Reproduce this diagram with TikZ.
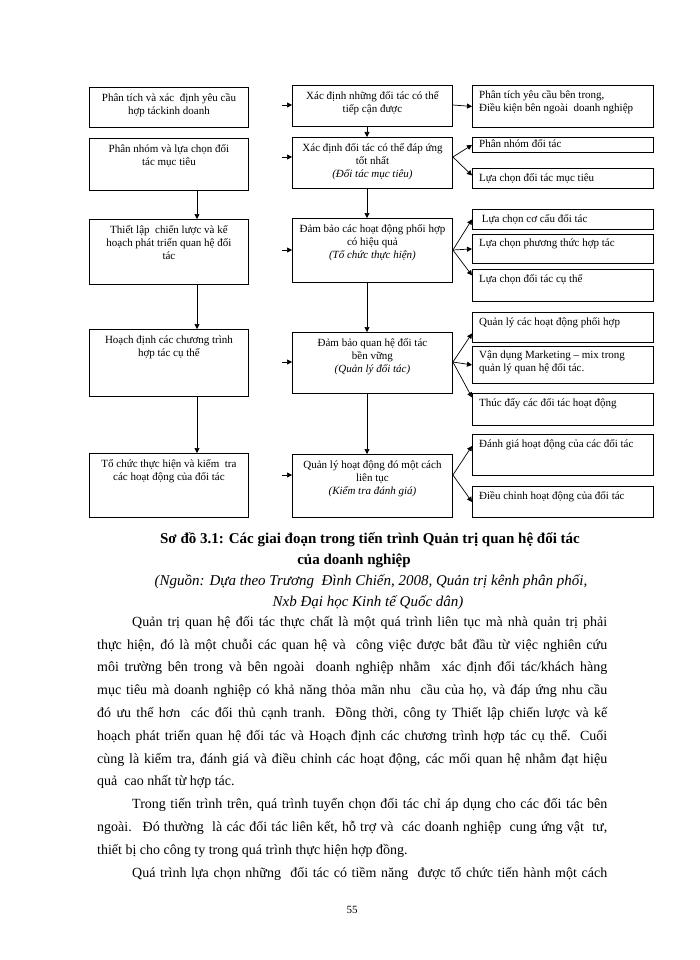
\documentclass[tikz,border=0pt]{standalone}
\usepackage{fontspec}
\setmainfont{Liberation Serif}
\usetikzlibrary{arrows.meta}
\newcommand\diagfont{\fontsize{11}{13}\selectfont}
\newcommand\bodyfont{\fontsize{14}{22.8}\selectfont}

\tikzset{
  frame/.style={draw, line width=0.9pt, anchor=north west, inner sep=0pt},
  lbox/.style={frame, minimum width=159pt},
  mbox/.style={frame, minimum width=160pt},
  rbox/.style={frame, minimum width=181pt},
  ctext/.style={anchor=north, align=center, font=\diagfont, inner xsep=4pt, inner ysep=6.5pt},
  rtext/.style={anchor=north west, align=left, font=\diagfont, inner xsep=7pt, inner ysep=5pt},
  arr/.style={-{Triangle[length=5pt,width=5pt]}, line width=0.7pt}
}

\begin{document}
\begin{tikzpicture}[x=1pt,y=-1pt]
    \fill[white] (0,0) rectangle (700,960);
    \useasboundingbox (0,0) rectangle (700,960);
    % left column
    \node[lbox, minimum height=40pt, label={[ctext]north:{Phân tích và xác \ định yêu cầu\\hợp táckinh doanh}}] (L1) at (89,87) {};
    \node[lbox, minimum height=52pt, label={[ctext]north:{Phân nhóm và lựa chọn đối\\tác mục tiêu}}] (L2) at (89,138) {};
    \node[lbox, minimum height=65pt, label={[ctext]north:{Thiết lập \ chiến lược và kế\\hoạch phát triển quan hệ đối\\tác}}] (L3) at (89,219) {};
    \node[lbox, minimum height=67pt, label={[ctext]north:{Hoạch định các chương trình\\hợp tác cụ thể}}] (L4) at (89,329) {};
    \node[lbox, minimum height=64pt, label={[ctext]north:{Tổ chức thực hiện và kiểm \ tra\\các hoạt động của đối tác}}] (L5) at (89,453) {};
    % middle column
    \node[mbox, minimum height=41pt, label={[ctext]north:{Xác định những đối tác có thể\\tiếp cận được}}] (M1) at (292,85) {};
    \node[mbox, minimum height=51pt, label={[ctext]north:{Xác định đối tác có thể đáp ứng\\tốt nhất\\\textit{(Đối tác mục tiêu)}}}] (M2) at (292,137) {};
    \node[mbox, minimum height=64pt, label={[ctext]north:{Đảm bảo các hoạt động phối hợp\\có hiệu quả\\\textit{(Tổ chức thực hiện)}}}] (M3) at (292,218) {};
    \node[mbox, minimum height=61pt, label={[ctext]north:{Đảm bảo quan hệ đối tác\\bền vững\\\textit{(Quản lý đối tác)}}}] (M4) at (292,332) {};
    \node[mbox, minimum height=63pt, label={[ctext]north:{Quản lý hoạt động đó một cách\\liên tục\\\textit{(Kiểm tra đánh giá)}}}] (M5) at (292,454) {};
    % right column
    \node[rbox, minimum height=42pt, label={[rtext]north west:{Phân tích yêu cầu bên trong,\\Điều kiện bên ngoài \ doanh nghiệp}}] (R1) at (472,85) {};
    \node[rbox, minimum height=15pt, label={[rtext, inner ysep=2pt]north west:{Phân nhóm đối tác}}] (R2) at (472,137) {};
    \node[rbox, minimum height=20pt, label={[rtext]north west:{Lựa chọn đối tác mục tiêu}}] (R3) at (472,168) {};
    \node[rbox, minimum height=20pt, label={[rtext]north west:{\ Lựa chọn cơ cấu đối tác}}] (R4) at (472,209) {};
    \node[rbox, minimum height=29pt, label={[rtext]north west:{Lựa chọn phương thức hợp tác}}] (R5) at (472,234) {};
    \node[rbox, minimum height=32pt, label={[rtext]north west:{Lựa chọn đối tác cụ thể}}] (R6) at (472,269) {};
    \node[rbox, minimum height=30pt, label={[rtext]north west:{Quản lý các hoạt động phối hợp}}] (R7) at (472,312) {};
    \node[rbox, minimum height=37pt, label={[rtext]north west:{Vận dụng Marketing – mix trong\\quản lý quan hệ đối tác.}}] (R8) at (472,346) {};
    \node[rbox, minimum height=32pt, label={[rtext]north west:{Thúc đẩy các đối tác hoạt động}}] (R9) at (472,393) {};
    \node[rbox, minimum height=41pt, label={[rtext]north west:{Đánh giá hoạt động của các đối tác}}] (R10) at (472,434) {};
    \node[rbox, minimum height=31pt, label={[rtext]north west:{Điều chỉnh hoạt động của đối tác}}] (R11) at (472,486) {};
    % vertical arrows
    \coordinate (lx) at (197,0);
    \coordinate (mx) at (367,0);
    \draw[arr] (L2.south -| lx) -- (L3.north -| lx);
    \draw[arr] (L3.south -| lx) -- (L4.north -| lx);
    \draw[arr] (L4.south -| lx) -- (L5.north -| lx);
    \draw[arr] (M1.south -| mx) -- (M2.north -| mx);
    \draw[arr] (M2.south -| mx) -- (M3.north -| mx);
    \draw[arr] (M3.south -| mx) -- (M4.north -| mx);
    \draw[arr] (M4.south -| mx) -- (M5.north -| mx);
    % short inputs on the left of the middle column
    \coordinate (s1) at (282,105);
    \coordinate (s2) at (282,157);
    \coordinate (s3) at (282,250);
    \coordinate (s4) at (282,362);
    \coordinate (s5) at (282,475);
    \draw[arr] (s1) -- (s1 -| M1.west);
    \draw[arr] (s2) -- (s2 -| M2.west);
    \draw[arr] (s3) -- (s3 -| M3.west);
    \draw[arr] (s4) -- (s4 -| M4.west);
    \draw[arr] (s5) -- (s5 -| M5.west);
    % fans to the right column
    \draw[arr] (s1 -| M1.east) -- (R1.west);
    \draw[arr] (s2 -| M2.east) -- (R2.west);
    \draw[arr] (s2 -| M2.east) -- ([yshift=3pt]R3.west);
    \draw[arr] (s3 -| M3.east) -- (R4.west);
    \draw[arr] (s3 -| M3.east) -- (R5.west);
    \draw[arr] (s3 -| M3.east) -- ([yshift=10pt]R6.west);
    \draw[arr] (s4 -| M4.east) -- ([yshift=-6pt]R7.west);
    \draw[arr] (s4 -| M4.east) -- (R8.west);
    \draw[arr] (s4 -| M4.east) -- ([yshift=12pt]R9.west);
    \draw[arr] (s5 -| M5.east) -- ([yshift=9pt]R10.west);
    \draw[arr] (s5 -| M5.east) -- (R11.west);
    % caption
    \node[font=\fontsize{15}{17}\selectfont\bfseries] (cap1) at (370,540) {Sơ đồ 3.1: Các giai đoạn trong tiến trình Quản trị quan hệ đối tác};
    \node[font=\fontsize{15}{17}\selectfont\bfseries] (cap2) at (354,561) {của doanh nghiệp};
    \node[font=\fontsize{15}{17}\selectfont\itshape] (src1) at (371,582) {(Nguồn: Dựa theo Trương \ Đình Chiến, 2008, Quản trị kênh phân phối,};
    \node[font=\fontsize{15}{17}\selectfont\itshape] (src2) at (368,603) {Nxb Đại học Kinh tế Quốc dân)};
    % body text
    \node[anchor=north west, inner sep=0pt, text width=510pt, align=justify, font=\bodyfont] (body) at (97,616) {%
      \hspace*{35pt}Quản trị quan hệ đối tác thực chất là một quá trình liên tục mà nhà quản trị phải\linebreak
      thực hiện, đó là một chuỗi các quan hệ và \ công việc được bắt đầu từ việc nghiên cứu\linebreak
      môi trường bên trong và bên ngoài \ doanh nghiệp nhằm \ xác định đối tác/khách hàng\linebreak
      mục tiêu mà doanh nghiệp có khả năng thỏa mãn nhu \ cầu của họ, và đáp ứng nhu cầu\linebreak
      đó ưu thế hơn \ các đối thủ cạnh tranh. Đồng thời, công ty Thiết lập chiến lược và kế\linebreak
      hoạch phát triển quan hệ đối tác và Hoạch định các chương trình hợp tác cụ thể. Cuối\linebreak
      cùng là kiểm tra, đánh giá và điều chỉnh các hoạt động, các mối quan hệ nhằm đạt hiệu\linebreak
      quả \ cao nhất từ hợp tác.\par
      \hspace*{35pt}Trong tiến trình trên, quá trình tuyển chọn đối tác chỉ áp dụng cho các đối tác bên\linebreak
      ngoài. \ Đó thường \ là các đối tác liên kết, hỗ trợ và \ các doanh nghiệp \ cung ứng vật \ tư,\linebreak
      thiết bị cho công ty trong quá trình thực hiện hợp đồng.\par
      \hspace*{35pt}Quá trình lựa chọn những \ đối tác có tiềm năng \ được tổ chức tiến hành một cách\linebreak};
    \node[font=\fontsize{11}{13}\selectfont] (page) at (352,910) {55};
\end{tikzpicture}
\end{document}
